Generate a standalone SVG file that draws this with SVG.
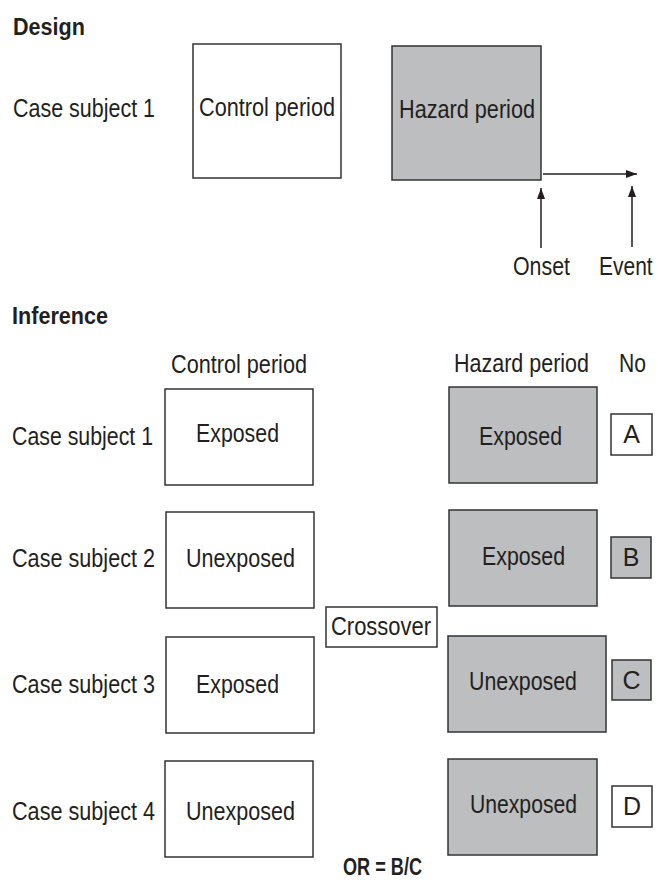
<svg xmlns="http://www.w3.org/2000/svg" width="658" height="885" viewBox="0 0 658 885">
<style>
text{font-family:"Liberation Sans",Arial,sans-serif;font-size:25px;fill:#231f20}
.b{font-weight:bold;font-size:23px}
.w{fill:#ffffff;stroke:#333333;stroke-width:1.5}
.g{fill:#bcbec0;stroke:#333333;stroke-width:1.5}
.ln{stroke:#231f20;stroke-width:1.5;fill:none}
</style>
<defs>
<marker id="ah" markerWidth="12" markerHeight="8" refX="11" refY="4" orient="auto" markerUnits="userSpaceOnUse">
<path d="M0,0 L11,4 L0,8 Z" fill="#231f20"/>
</marker>
</defs>

<text class="b" x="13" y="35" textLength="72" lengthAdjust="spacingAndGlyphs">Design</text>
<text x="13" y="117" textLength="142" lengthAdjust="spacingAndGlyphs">Case subject 1</text>

<g id="design-control">
<rect class="w" x="193" y="44" width="148" height="134"/>
<text x="199" y="116" textLength="136" lengthAdjust="spacingAndGlyphs">Control period</text>
</g>
<g id="design-hazard">
<rect class="g" x="392" y="46" width="149" height="134"/>
<text x="399" y="118" textLength="136" lengthAdjust="spacingAndGlyphs">Hazard period</text>
</g>
<g id="onset"><text x="513" y="275" textLength="57" lengthAdjust="spacingAndGlyphs">Onset</text></g>
<g id="event"><text transform="translate(599,275) scale(0.84,1)" x="0" y="0">Event</text></g>

<g id="connectors">
<line class="ln" x1="543" y1="174" x2="637" y2="174" marker-end="url(#ah)"/>
<line class="ln" x1="541" y1="248" x2="541" y2="188" marker-end="url(#ah)"/>
<line class="ln" x1="632" y1="247" x2="632" y2="186" marker-end="url(#ah)"/>
</g>

<text class="b" x="12" y="324" textLength="96" lengthAdjust="spacingAndGlyphs">Inference</text>
<text x="171" y="373" textLength="136" lengthAdjust="spacingAndGlyphs">Control period</text>
<text x="454" y="372" textLength="135" lengthAdjust="spacingAndGlyphs">Hazard period</text>
<text x="619" y="372" textLength="27" lengthAdjust="spacingAndGlyphs">No</text>

<text x="12" y="445" textLength="141" lengthAdjust="spacingAndGlyphs">Case subject 1</text>
<text x="12" y="567" textLength="143" lengthAdjust="spacingAndGlyphs">Case subject 2</text>
<text x="12" y="693" textLength="143" lengthAdjust="spacingAndGlyphs">Case subject 3</text>
<text x="12" y="820" textLength="143" lengthAdjust="spacingAndGlyphs">Case subject 4</text>

<g id="c1"><rect class="w" x="165" y="389" width="148" height="96"/>
<text x="196" y="442" textLength="83" lengthAdjust="spacingAndGlyphs">Exposed</text></g>
<g id="c2"><rect class="w" x="166" y="512" width="148" height="96"/>
<text x="186" y="567" textLength="109" lengthAdjust="spacingAndGlyphs">Unexposed</text></g>
<g id="c3"><rect class="w" x="166" y="637" width="148" height="96"/>
<text x="196" y="693" textLength="83" lengthAdjust="spacingAndGlyphs">Exposed</text></g>
<g id="c4"><rect class="w" x="165" y="761" width="148" height="96"/>
<text x="186" y="820" textLength="109" lengthAdjust="spacingAndGlyphs">Unexposed</text></g>

<g id="crossover"><rect class="w" x="326" y="607" width="111" height="40"/>
<text x="331" y="635" textLength="100" lengthAdjust="spacingAndGlyphs">Crossover</text></g>

<g id="h1"><rect class="g" x="449" y="387" width="148" height="96"/>
<text x="479" y="445" textLength="83" lengthAdjust="spacingAndGlyphs">Exposed</text></g>
<g id="h2"><rect class="g" x="449" y="510" width="148" height="96"/>
<text x="482" y="565" textLength="83" lengthAdjust="spacingAndGlyphs">Exposed</text></g>
<g id="h3"><rect class="g" x="448" y="636" width="158" height="96"/>
<text x="469" y="690" textLength="108" lengthAdjust="spacingAndGlyphs">Unexposed</text></g>
<g id="h4"><rect class="g" x="448" y="759" width="149" height="96"/>
<text x="470" y="813" textLength="107" lengthAdjust="spacingAndGlyphs">Unexposed</text></g>

<g id="nA"><rect class="w" x="611" y="414" width="41" height="41"/>
<text x="631.5" y="443" text-anchor="middle">A</text></g>
<g id="nB"><rect class="g" x="611" y="537" width="40" height="41"/>
<text x="631" y="566" text-anchor="middle">B</text></g>
<g id="nC"><rect class="g" x="612" y="660" width="39" height="40"/>
<text x="631.5" y="689" text-anchor="middle">C</text></g>
<g id="nD"><rect class="w" x="612" y="786" width="40" height="41"/>
<text x="632" y="815" text-anchor="middle">D</text></g>

<text class="b" x="343" y="875" textLength="79" lengthAdjust="spacingAndGlyphs">OR = B/C</text>
</svg>
